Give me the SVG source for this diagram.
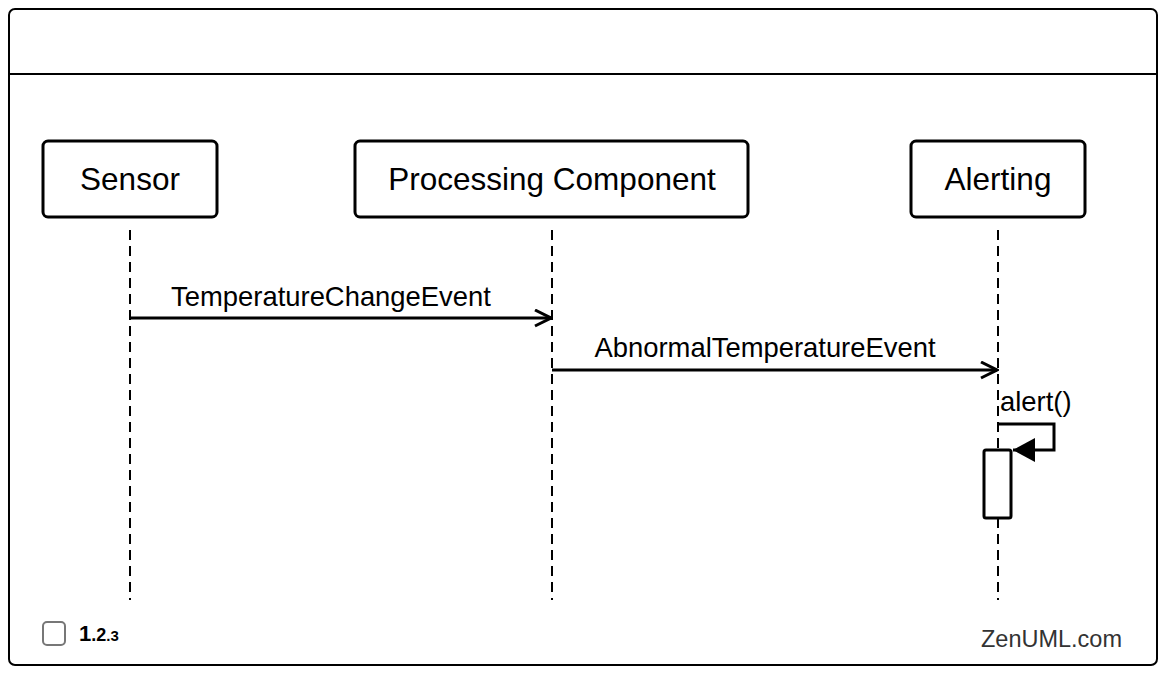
<svg xmlns="http://www.w3.org/2000/svg" width="1166" height="674" viewBox="0 0 1166 674">
<style>
.frame{fill:#fff;stroke:#000;stroke-width:2}
.box{fill:#fff;stroke:#000;stroke-width:3}
.pname{font-family:"Liberation Sans",Arial,sans-serif;font-size:31.5px;fill:#000;text-anchor:middle}
.life{stroke:#000;stroke-width:2;stroke-dasharray:10,6;fill:none}
.msg{stroke:#000;stroke-width:3;fill:none}
.mlabel{font-family:"Liberation Sans",Arial,sans-serif;font-size:27.4px;fill:#000;text-anchor:middle}
</style>
<defs>
<marker id="open" markerWidth="20" markerHeight="20" refX="18" refY="9" orient="auto" markerUnits="userSpaceOnUse">
<path d="M2,1 L18,9 L2,17" fill="none" stroke="#000" stroke-width="3"/>
</marker>
<marker id="filled" markerWidth="24" markerHeight="26" refX="22" refY="12" orient="auto" markerUnits="userSpaceOnUse">
<path d="M0,0 L22,12 L0,24 Z" fill="#000"/>
</marker>
</defs>
<rect class="frame" x="9" y="9" width="1148" height="656" rx="6"/>
<line x1="9" y1="74" x2="1157" y2="74" stroke="#000" stroke-width="2"/>
<g id="lifelines">
<line class="life" x1="130" y1="230" x2="130" y2="600"/>
<line class="life" x1="552" y1="230" x2="552" y2="600"/>
<line class="life" x1="998" y1="230" x2="998" y2="600"/>
</g>
<g id="sensor">
<rect class="box" x="43" y="141" width="174" height="76" rx="5"/>
<text class="pname" x="130" y="190">Sensor</text>
</g>
<g id="processing">
<rect class="box" x="355" y="141" width="393" height="76" rx="5"/>
<text class="pname" x="552" y="190">Processing Component</text>
</g>
<g id="alerting">
<rect class="box" x="911" y="141" width="174" height="76" rx="5"/>
<text class="pname" x="998" y="190">Alerting</text>
</g>
<g id="activation">
<rect x="984" y="450" width="27" height="68" rx="2" fill="#fff" stroke="#000" stroke-width="3"/>
</g>
<g id="connectors">
<line class="msg" x1="130" y1="318" x2="551" y2="318" marker-end="url(#open)"/>
<text class="mlabel" x="331" y="306">TemperatureChangeEvent</text>
<line class="msg" x1="552" y1="370" x2="997" y2="370" marker-end="url(#open)"/>
<text class="mlabel" x="765" y="357">AbnormalTemperatureEvent</text>
<polyline class="msg" points="998,424 1054,424 1054,450 1013,450" marker-end="url(#filled)"/>
<text class="mlabel" x="1000" y="411" style="text-anchor:start">alert()</text>
</g>
<g id="footer">
<rect x="43" y="622" width="22" height="23" rx="4" fill="#fff" stroke="#777" stroke-width="2"/>
<text x="79" y="641" font-family="Liberation Sans,Arial,sans-serif" font-weight="bold" font-size="22" fill="#000">1<tspan font-size="18">.2</tspan><tspan font-size="15">.3</tspan></text>
<text x="1122" y="647" font-family="Liberation Sans,Arial,sans-serif" font-size="23.5" fill="#333" text-anchor="end">ZenUML.com</text>
</g>
</svg>
